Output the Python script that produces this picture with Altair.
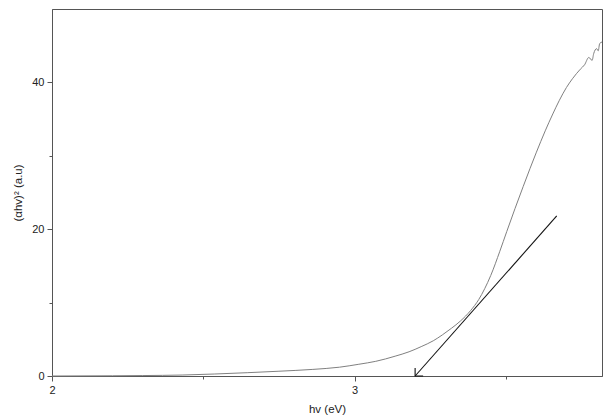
import altair as alt
import pandas as pd

# Tauc plot curve
hv = [2.0, 2.2, 2.3, 2.43, 2.536, 2.645, 2.75, 2.862, 2.95, 3.014, 3.07, 3.134,
      3.18, 3.22, 3.26, 3.29, 3.32, 3.35, 3.383, 3.41, 3.43, 3.45, 3.48, 3.503,
      3.53, 3.557, 3.58, 3.6, 3.63, 3.655, 3.676, 3.7, 3.72, 3.746, 3.76, 3.774,
      3.785, 3.79, 3.8, 3.805, 3.81, 3.8176]
ahv2 = [0.0, 0.03, 0.06, 0.13, 0.27, 0.45, 0.65, 0.9, 1.2, 1.6, 2.0, 2.7,
        3.3, 4.0, 4.8, 5.6, 6.5, 7.5, 8.9, 10.4, 11.9, 13.7, 17.0, 19.7,
        22.8, 25.8, 28.3, 30.4, 33.4, 35.7, 37.5, 39.3, 40.5, 41.8, 42.4, 43.4,
        43.0, 43.9, 44.6, 44.3, 45.3, 45.5]

# Tangent (extrapolation) line
tan_x = [3.2, 3.668]
tan_y = [0.0, 21.8]

curve = pd.DataFrame({"x": hv, "y": ahv2})
tangent = pd.DataFrame({"x": tan_x, "y": tan_y})
tip = pd.DataFrame({"x": [tan_x[0]], "y": [tan_y[0]]})

XMAX = 3.8176
xscale = alt.Scale(domain=[2, XMAX], nice=False, zero=False)
yscale = alt.Scale(domain=[0, 50], nice=False)

font = "Liberation Sans"

xaxis = alt.Axis(
    values=[2, 2.5, 3, 3.5],
    labelExpr="datum.value % 1 === 0 ? format(datum.value, 'd') : ''",
    title="hv (eV)", grid=False, domainColor="#555", tickColor="#555",
    tickSize={"condition": {"test": "datum.value % 1 === 0", "value": 5}, "value": 3},
    labelFont=font, titleFont=font, labelFontSize=11, titleFontSize=11.5,
    titleFontWeight="normal", labelColor="#222", titleColor="#222",
    labelPadding=3, titlePadding=8, labelFlush=False,
)
yaxis = alt.Axis(
    values=[0, 10, 20, 30, 40],
    labelExpr="datum.value % 20 === 0 ? format(datum.value, 'd') : ''",
    title="(αhv)² (a.u)", grid=False, domainColor="#555", tickColor="#555",
    tickSize={"condition": {"test": "datum.value % 20 === 0", "value": 5}, "value": 3},
    labelFont=font, titleFont=font, labelFontSize=11, titleFontSize=11.5,
    titleFontWeight="normal", labelColor="#222", titleColor="#222",
    labelPadding=3, titlePadding=8, labelFlush=False,
)

line = alt.Chart(curve).mark_line(color="#808080", strokeWidth=1, interpolate="monotone").encode(
    x=alt.X("x:Q", scale=xscale, axis=xaxis),
    y=alt.Y("y:Q", scale=yscale, axis=yaxis),
    order="x:Q",
)

tline = alt.Chart(tangent).mark_line(color="#111", strokeWidth=1.1).encode(
    x=alt.X("x:Q", scale=xscale),
    y=alt.Y("y:Q", scale=yscale),
)

arrow = alt.Chart(tip).mark_point(
    shape="M0,-1L0,0L1,0", filled=False, color="#111", strokeWidth=1.1, size=256, opacity=1
).encode(
    x=alt.X("x:Q", scale=xscale),
    y=alt.Y("y:Q", scale=yscale),
)

chart = alt.layer(line, tline, arrow).properties(
    width=550, height=367,
    autosize=alt.AutoSizeParams(type="none"),
    padding={"left": 44, "top": 1, "right": 1, "bottom": 40},
    background="white",
).configure_view(stroke="#555", strokeWidth=1)

chart.save("out.html", embed_options={"renderer": "svg", "actions": False})
